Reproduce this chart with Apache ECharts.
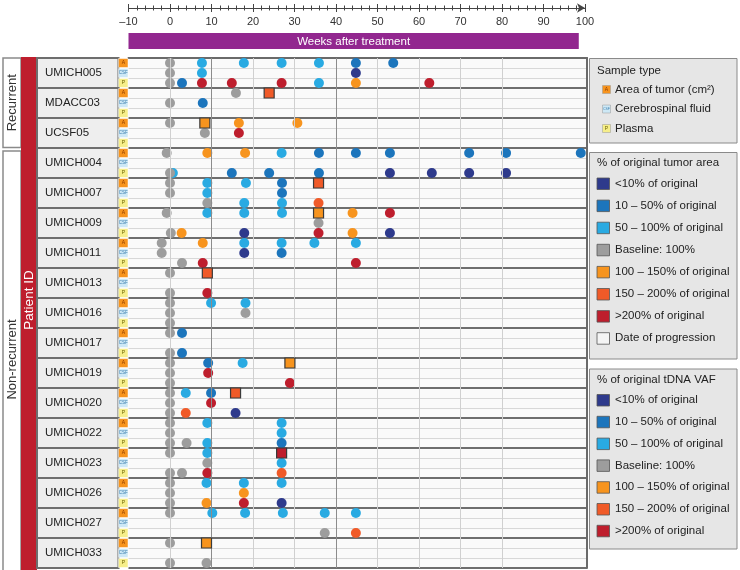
<!DOCTYPE html>
<html><head><meta charset="utf-8">
<script src="https://cdn.jsdelivr.net/npm/echarts@6/dist/echarts.min.js"></script>
<style>html,body{margin:0;padding:0;background:#fff}#c{width:740px;height:570px}</style>
</head><body><div id="c"></div>
<script>
// ---------- data ----------
const patients = ['UMICH005','MDACC03','UCSF05','UMICH004','UMICH007','UMICH009','UMICH011','UMICH013','UMICH016','UMICH017','UMICH019','UMICH020','UMICH022','UMICH023','UMICH026','UMICH027','UMICH033'];
const groups = ['Recurrent','Non-recurrent'];
const groupCounts = [3,14];
const sampleTypes = ['A','CSF','P'];
const sampleTypeLabels = ['Area of tumor (cm²)','Cerebrospinal fluid','Plasma'];
const weekMin = -10, weekMax = 100, weekStep = 10;
const gridWeeks = [0,10,20,30,40,50,60,70,80];
const majorGridWeeks = [10,40];
const changeKeys = ['n','m','l','g','o','r','d'];
const changeLabels = ['<10% of original','10 – 50% of original','50 – 100% of original','Baseline: 100%','100 – 150% of original','150 – 200% of original','>200% of original'];
const changeColors = ['#2E3A8C','#1C75BC','#29AAE2','#9D9D9D','#F7941E','#F05A28','#BE1E2D'];

// [patient, week, change category]
const tumorArea = [
 ['UMICH005',0,'g'],['UMICH005',7.7,'l'],['UMICH005',17.8,'l'],['UMICH005',26.9,'l'],['UMICH005',35.9,'l'],['UMICH005',44.8,'m'],['UMICH005',53.8,'m'],
 ['MDACC03',15.9,'g'],
 ['UCSF05',0,'g'],['UCSF05',16.6,'o'],['UCSF05',30.7,'o'],
 ['UMICH004',-0.8,'g'],['UMICH004',9.0,'o'],['UMICH004',18.1,'o'],['UMICH004',26.9,'l'],['UMICH004',35.9,'m'],['UMICH004',44.8,'m'],['UMICH004',53.0,'m'],['UMICH004',72.1,'m'],['UMICH004',81.0,'m'],['UMICH004',99.0,'m'],
 ['UMICH007',0,'g'],['UMICH007',9.0,'l'],['UMICH007',18.3,'l'],['UMICH007',27.0,'m'],
 ['UMICH009',-0.8,'g'],['UMICH009',9.0,'l'],['UMICH009',17.9,'l'],['UMICH009',27.0,'l'],['UMICH009',44.0,'o'],['UMICH009',53.0,'d'],
 ['UMICH011',-2.0,'g'],['UMICH011',7.9,'o'],['UMICH011',17.9,'l'],['UMICH011',26.9,'l'],['UMICH011',34.8,'l'],['UMICH011',44.8,'l'],
 ['UMICH013',0,'g'],
 ['UMICH016',0,'g'],['UMICH016',9.9,'l'],['UMICH016',18.2,'l'],
 ['UMICH017',0,'g'],['UMICH017',2.9,'m'],
 ['UMICH019',0,'g'],['UMICH019',9.2,'m'],['UMICH019',17.5,'l'],
 ['UMICH020',0,'g'],['UMICH020',3.8,'l'],['UMICH020',9.9,'m'],
 ['UMICH022',0,'g'],['UMICH022',9.0,'l'],['UMICH022',26.9,'l'],
 ['UMICH023',0,'g'],['UMICH023',9.0,'l'],
 ['UMICH026',0,'g'],['UMICH026',8.8,'l'],['UMICH026',17.8,'l'],['UMICH026',26.9,'l'],
 ['UMICH027',0,'g'],['UMICH027',10.2,'l'],['UMICH027',18.1,'l'],['UMICH027',27.2,'l'],['UMICH027',37.3,'l'],['UMICH027',44.8,'l'],
 ['UMICH033',0,'g']
];
const csfVaf = [
 ['UMICH005',0,'g'],['UMICH005',7.7,'l'],['UMICH005',44.8,'n'],
 ['MDACC03',0,'g'],['MDACC03',7.9,'m'],
 ['UCSF05',8.4,'g'],['UCSF05',16.6,'d'],
 ['UMICH007',0,'g'],['UMICH007',9.0,'l'],['UMICH007',27.0,'m'],
 ['UMICH009',35.8,'g'],
 ['UMICH011',-2.0,'g'],['UMICH011',17.9,'n'],['UMICH011',26.9,'m'],
 ['UMICH016',0,'g'],['UMICH016',18.2,'g'],
 ['UMICH019',0,'g'],['UMICH019',9.2,'d'],
 ['UMICH020',0,'g'],['UMICH020',9.9,'d'],
 ['UMICH022',0,'g'],['UMICH022',26.9,'l'],
 ['UMICH023',9.0,'g'],['UMICH023',26.9,'l'],
 ['UMICH026',0,'g'],['UMICH026',17.8,'o']
];
const plasmaVaf = [
 ['UMICH005',0,'g'],['UMICH005',2.9,'m'],['UMICH005',7.7,'d'],['UMICH005',14.9,'d'],['UMICH005',26.9,'d'],['UMICH005',35.9,'l'],['UMICH005',44.8,'o'],['UMICH005',62.5,'d'],
 ['UMICH004',0,'g'],['UMICH004',0.7,'l'],['UMICH004',14.9,'m'],['UMICH004',23.9,'m'],['UMICH004',35.9,'m'],['UMICH004',53.0,'n'],['UMICH004',63.1,'n'],['UMICH004',72.1,'n'],['UMICH004',81.0,'n'],
 ['UMICH007',9.0,'g'],['UMICH007',17.9,'l'],['UMICH007',27.0,'l'],['UMICH007',35.8,'r'],
 ['UMICH009',0.2,'g'],['UMICH009',2.8,'o'],['UMICH009',17.9,'n'],['UMICH009',35.8,'d'],['UMICH009',44.0,'o'],['UMICH009',53.0,'n'],
 ['UMICH011',2.9,'g'],['UMICH011',7.9,'d'],['UMICH011',44.8,'d'],
 ['UMICH013',0,'g'],['UMICH013',9.0,'d'],
 ['UMICH016',0,'g'],
 ['UMICH017',0,'g'],['UMICH017',2.9,'m'],
 ['UMICH019',0,'g'],['UMICH019',28.9,'d'],
 ['UMICH020',0,'g'],['UMICH020',3.8,'r'],['UMICH020',15.8,'n'],
 ['UMICH022',0,'g'],['UMICH022',4.0,'g'],['UMICH022',9.0,'l'],['UMICH022',26.9,'m'],
 ['UMICH023',0,'g'],['UMICH023',2.9,'g'],['UMICH023',9.0,'d'],['UMICH023',26.9,'r'],
 ['UMICH026',0,'g'],['UMICH026',8.8,'o'],['UMICH026',17.8,'d'],['UMICH026',26.9,'n'],
 ['UMICH027',37.3,'g'],['UMICH027',44.8,'r'],
 ['UMICH033',0,'g'],['UMICH033',8.8,'g']
];
// date of progression (tumor area row)
const progression = [
 ['MDACC03',23.9,'r'],['UCSF05',8.4,'o'],['UMICH007',35.8,'r'],['UMICH009',35.8,'o'],['UMICH013',9.0,'r'],
 ['UMICH019',28.9,'o'],['UMICH020',15.8,'r'],['UMICH023',26.9,'d'],['UMICH033',8.8,'o']
];

// ---------- chart ----------
const FONT = '"Liberation Sans", Arial, Helvetica, sans-serif';
const chart = echarts.init(document.getElementById('c'), null, {renderer:'canvas'});
const rowOf = (p, t) => patients.indexOf(p) * 3 + t + 0.5;
const pts = [];
[tumorArea, csfVaf, plasmaVaf].forEach((arr, t) => arr.forEach(([p, w, c]) => pts.push({p, w, c, t})));

const series = [];
series.push({
  type:'scatter', xAxisIndex:0, yAxisIndex:0, data:[], z:1, silent:true,
  markLine:{silent:true, symbol:'none', animation:false, label:{show:false},
    data: gridWeeks.map(w => ({xAxis:w, lineStyle:{color: majorGridWeeks.includes(w) ? '#8c8c8c' : '#d0d0d0', width:1, type:'solid'}}))}
});
changeKeys.forEach((k, i) => {
  series.push({
    type:'scatter', name:changeLabels[i], xAxisIndex:0, yAxisIndex:0, symbol:'circle', symbolSize:10, z:4,
    itemStyle:{color:changeColors[i], opacity:1},
    data: pts.filter(d => d.c === k).map(d => [d.w, rowOf(d.p, d.t)])
  });
});
series.push({
  type:'scatter', name:'Date of progression', xAxisIndex:0, yAxisIndex:0, symbol:'rect', symbolSize:10, z:5,
  data: progression.map(([p, w, c]) => ({value:[w, rowOf(p, 0)],
    itemStyle:{color:changeColors[changeKeys.indexOf(c)], borderColor:'#3a3a3a', borderWidth:1.2, opacity:1}}))
});

const tickCommon = {lineStyle:{color:'#444', width:1}};
chart.setOption({
  animation:false,
  backgroundColor:'#ffffff',
  grid:[
    {left:128.5, top:58, width:458.5, height:510, show:true, backgroundColor:'#fafafa', borderWidth:0},
    {left:128.5, top:7, width:456.5, height:1}
  ],
  xAxis:[
    {gridIndex:0, type:'value', min:weekMin, max:100.5, position:'top',
      axisLine:{show:true, lineStyle:{color:'#6a6a6a', width:2}}, axisTick:{show:false}, axisLabel:{show:false}, splitLine:{show:false}},
    {gridIndex:1, type:'value', min:weekMin, max:weekMax, interval:weekStep, position:'top',
      axisLine:{show:false}, axisTick:Object.assign({show:true, length:4}, tickCommon),
      minorTick:Object.assign({show:true, splitNumber:5, length:2.5}, tickCommon),
      axisLabel:{show:false}, splitLine:{show:false}},
    {gridIndex:1, type:'value', min:weekMin, max:weekMax, interval:weekStep, position:'bottom',
      axisLine:{show:true, symbol:['none','arrow'], symbolSize:[7,8], lineStyle:{color:'#444', width:1}},
      axisTick:Object.assign({show:true, length:4}, tickCommon),
      minorTick:Object.assign({show:true, splitNumber:5, length:2.5}, tickCommon),
      axisLabel:{show:true, fontSize:11, color:'#333', margin:8, fontFamily:FONT,
        formatter: v => v < 0 ? '–' + (-v) : String(v)},
      splitLine:{show:false}}
  ],
  yAxis:[
    {gridIndex:0, type:'value', min:0, max:patients.length*3, interval:1, inverse:true,
      axisLine:{show:false}, axisTick:{show:false}, axisLabel:{show:false},
      splitLine:{show:true, lineStyle:{color:'#d8d8d8', width:1}}},
    {gridIndex:0, type:'value', min:0, max:patients.length, interval:1, inverse:true, position:'right',
      axisLine:{show:true, lineStyle:{color:'#6a6a6a', width:2}}, axisTick:{show:false}, axisLabel:{show:false},
      splitLine:{show:true, lineStyle:{color:'#6e6e6e', width:2}}},
    {gridIndex:1, type:'value', show:false}
  ],
  series: series
});

// ---------- side labels and legend ----------
const yPix = v => chart.convertToPixel({yAxisIndex:0}, v);
const xPix = v => chart.convertToPixel({xAxisIndex:2}, v);
const g = [];
// purple band
const bx0 = xPix(weekMin), bx1 = xPix(98.5);
g.push({type:'rect', shape:{x:bx0, y:33, width:bx1-bx0, height:16}, style:{fill:'#92278F'}});
g.push({type:'text', x:(bx0+bx1)/2, y:41.5, style:{text:'Weeks after treatment', fill:'#fff', fontSize:11.5, fontFamily:FONT, align:'center', verticalAlign:'middle'}});

// group boxes
let start = 0;
groups.forEach((name, gi) => {
  const top = yPix(start*3) + (gi ? 3 : 0);
  const bottom = gi ? 572 : yPix((start+groupCounts[gi])*3) - 0.5;
  g.push({type:'rect', shape:{x:3, y:top, width:18, height:bottom-top}, style:{fill:'#fff', stroke:'#8a8a8a', lineWidth:1.5}});
  g.push({type:'text', x:12, y:(top+Math.min(bottom,568))/2, rotation:Math.PI/2,
    style:{text:name, fill:'#333', fontSize:13, fontFamily:FONT, align:'center', verticalAlign:'middle'}});
  start += groupCounts[gi];
});
// red patient-ID bar
const yTop = yPix(0), yBot = yPix(patients.length*3);
g.push({type:'rect', shape:{x:21, y:yTop-1, width:16, height:yBot-yTop+3}, style:{fill:'#BE1E2D'}});
g.push({type:'text', x:29, y:300, rotation:Math.PI/2,
  style:{text:'Patient ID', fill:'#fff', fontSize:13.5, fontFamily:FONT, align:'center', verticalAlign:'middle'}});

const cellFill = ['#F7941E','#CDE8F5','#F6EE8A'];
const cellText = ['#8a3b00','#3d7fae','#6b6200'];
patients.forEach((p, i) => {
  const t = yPix(i*3), b = yPix(i*3+3);
  g.push({type:'rect', shape:{x:37, y:t, width:81.5, height:b-t}, style:{fill:'#eeeeee', stroke:'#6e6e6e', lineWidth:2}});
  g.push({type:'text', x:45, y:(t+b)/2, style:{text:p, fill:'#222', fontSize:11.5, fontFamily:FONT, align:'left', verticalAlign:'middle'}});
  sampleTypes.forEach((s, k) => {
    const ct = yPix(i*3+k), cb = yPix(i*3+k+1);
    g.push({type:'rect', shape:{x:118.5, y:ct+0.5, width:9.5, height:cb-ct-1}, style:{fill:cellFill[k], stroke:'#ffffff', lineWidth:0.5}});
    g.push({type:'text', x:123.3, y:(ct+cb)/2, style:{text:s, fill:cellText[k], fontSize:k===1?4.5:5, fontFamily:FONT, align:'center', verticalAlign:'middle'}});
  });
});

// legend 1: sample type
const LX = 589.5, LW = 147.5;
g.push({type:'rect', shape:{x:LX, y:58.5, width:LW, height:84.5}, style:{fill:'#e6e6e6', stroke:'#8a8a8a', lineWidth:1}});
g.push({type:'text', x:597, y:70.5, style:{text:'Sample type', fill:'#222', fontSize:11.5, fontFamily:FONT, verticalAlign:'middle'}});
sampleTypes.forEach((s, k) => {
  const y = 89.5 + k*19.5;
  g.push({type:'rect', shape:{x:602.5, y:y-4, width:8, height:8}, style:{fill:cellFill[k], stroke:'#999', lineWidth:0.5}});
  g.push({type:'text', x:606.5, y:y, style:{text:s, fill:cellText[k], fontSize:k===1?3.5:5, fontFamily:FONT, align:'center', verticalAlign:'middle'}});
  g.push({type:'text', x:615, y:y, style:{text:sampleTypeLabels[k], fill:'#222', fontSize:11.5, fontFamily:FONT, verticalAlign:'middle'}});
});
// legend 2 & 3
function colorLegend(top, h, title, withProg, step) {
  g.push({type:'rect', shape:{x:LX, y:top, width:LW, height:h}, style:{fill:'#e6e6e6', stroke:'#8a8a8a', lineWidth:1}});
  g.push({type:'text', x:597, y:top+10.5, style:{text:title, fill:'#222', fontSize:11.5, fontFamily:FONT, verticalAlign:'middle'}});
  const items = changeLabels.map((l, i) => [l, changeColors[i]]);
  if (withProg) items.push(['Date of progression', '#f4f4f4']);
  items.forEach(([l, c], i) => {
    const y = top + 31 + i*step;
    g.push({type:'rect', shape:{x:597, y:y-5.5, width:12.5, height:11.5}, style:{fill:c, stroke:'#555', lineWidth:0.8}});
    g.push({type:'text', x:615, y:y, style:{text:l, fill:'#222', fontSize:11.5, fontFamily:FONT, verticalAlign:'middle'}});
  });
}
colorLegend(152.5, 206.5, '% of original tumor area', true, 22.1);
colorLegend(369, 180, '% of original tDNA VAF', false, 21.8);

chart.setOption({graphic: g.map(e => Object.assign({silent:true, z:10}, e))});
</script>
</body></html>
